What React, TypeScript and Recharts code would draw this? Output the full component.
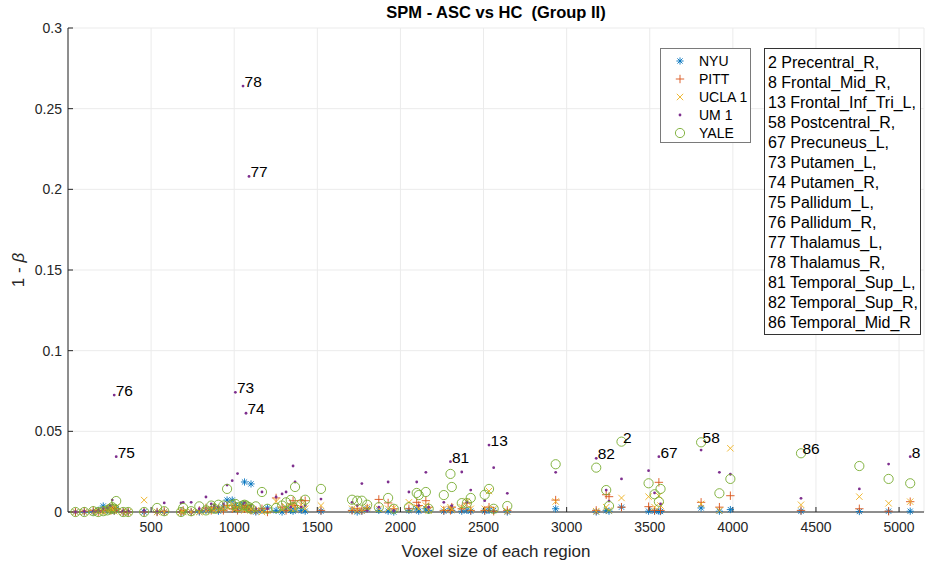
import { CartesianGrid, Scatter, ScatterChart, XAxis, YAxis } from 'recharts';

// voxel count of each AAL region and its 1 - beta per site (same order)
const voxelSizes = [
  45, 98, 152, 182, 212, 236, 254, 266, 278, 290, 332, 362, 458, 536, 579, 680, 693, 741, 790, 830,
  862, 880, 905, 935, 957, 988, 1007, 1020, 1053, 1062, 1071, 1089, 1101, 1130, 1167, 1200, 1252,
  1288, 1312, 1340, 1354, 1366, 1403, 1427, 1522, 1709, 1740, 1768, 1800, 1870, 1926, 1960, 2051,
  2098, 2110, 2153, 2170, 2261, 2301, 2309, 2369, 2400, 2423, 2507, 2533, 2561, 2643, 2934, 3178,
  3238, 3255, 3330, 3493, 3529, 3555, 3565, 3809, 3919, 3985, 4410, 4761, 4937, 5067,
];

const nyu = [
  0, 0, 0, 0.001, 0.0037, 0.001, 0.0025, 0.001, 0.0005, 0.002, 0, 0, 0, 0, 0, 0, 0, 0, 0, 0.001,
  0.0015, 0.002, 0.0005, 0.003, 0.0074, 0.0074, 0.004, 0.002, 0.005, 0.0186, 0.003, 0.002, 0.0174,
  0, 0.001, 0.0025, 0.001, 0, 0.002, 0.001, 0.0005, 0.002, 0.001, 0.0005, 0.0005, 0.001, 0, 0.0005,
  0.002, 0.001, 0.0005, 0, 0.001, 0.002, 0.0005, 0.002, 0.001, 0.0005, 0.002, 0.001, 0.0005, 0.001,
  0.0005, 0.0005, 0.001, 0.001, 0, 0.002, 0, 0.001, 0.0005, 0.003, 0.0005, 0.0005, 0.0005, 0.0003,
  0.0025, 0.0005, 0.0015, 0.0005, 0.0003, 0.0005, 0.0005,
];

const pitt = [
  0, 0.0005, 0.001, 0, 0.001, 0.002, 0.001, 0.003, 0.001, 0.002, 0, 0, 0, 0, 0.0005, 0, 0.001, 0,
  0.001, 0.0025, 0.001, 0.003, 0.002, 0.001, 0.004, 0.002, 0.003, 0.001, 0.003, 0.002, 0.004, 0.002,
  0.001, 0.001, 0.002, 0, 0.0087, 0.003, 0.001, 0.005, 0.007, 0.004, 0.007, 0.007, 0.001, 0.001,
  0.002, 0.001, 0.0025, 0.0078, 0.0056, 0.002, 0.002, 0.006, 0.004, 0.007, 0.003, 0.001, 0.001,
  0.003, 0.002, 0.0055, 0.001, 0.001, 0.003, 0.0005, 0.001, 0.0074, 0.001, 0.0107, 0.0095, 0.003,
  0.0033, 0.001, 0.0184, 0.001, 0.006, 0.003, 0.0101, 0.001, 0.002, 0.0005, 0.0064,
];

const ucla1 = [
  0, 0, 0, 0.0005, 0.0005, 0.001, 0.002, 0.002, 0.0005, 0.003, 0, 0, 0.0074, 0, 0, 0, 0, 0, 0,
  0.0005, 0.002, 0.001, 0.0015, 0.002, 0.003, 0.005, 0.002, 0.003, 0.002, 0.001, 0.002, 0.003, 0.002,
  0.001, 0, 0.001, 0.0065, 0.0015, 0.003, 0.002, 0.004, 0.002, 0.0045, 0.002, 0.004, 0.002, 0.001,
  0.001, 0.003, 0.002, 0.002, 0.0025, 0.006, 0.003, 0.002, 0.004, 0.001, 0.002, 0.003, 0.0015,
  0.003, 0.0065, 0.002, 0.002, 0.013, 0.002, 0.0005, 0.0065, 0.0005, 0.003, 0.001, 0.0087, 0.0095,
  0.003, 0.01, 0.004, 0.005, 0.001, 0.0395, 0.0045, 0.0095, 0.0054, 0.0064,
];

const um1 = [
  0, 0.0003, 0.0005, 0.001, 0.002, 0.0025, 0.004, 0.0074, 0.0725, 0.0343, 0.0005, 0.0005, 0.001, 0,
  0.0056, 0.0056, 0.006, 0.006, 0.002, 0.0093, 0.005, 0.004, 0.003, 0.005, 0.0167, 0.0194, 0.0742,
  0.0238, 0.264, 0.006, 0.0612, 0.208, 0.004, 0.002, 0.0124, 0.002, 0.0093, 0.0112, 0.0124, 0.003,
  0.0285, 0.0186, 0.003, 0.004, 0.008, 0.006, 0.004, 0.0176, 0.001, 0.003, 0.0186, 0.001, 0.0124,
  0.0186, 0.004, 0.0246, 0.003, 0.006, 0.0312, 0.004, 0.0248, 0.006, 0.0136, 0.007, 0.0415, 0.0275,
  0.0116, 0.0246, 0.0333, 0.0136, 0.0068, 0.0205, 0.0256, 0.0118, 0.0343, 0.005, 0.0384, 0.0246,
  0.0234, 0.0085, 0.0143, 0.0297, 0.0343,
];

const yale = [
  0, 0, 0.0005, 0, 0.0005, 0.001, 0.002, 0.003, 0.002, 0.0068, 0, 0, 0, 0.0025, 0.0005, 0, 0.0025,
  0.0005, 0.0035, 0.001, 0.004, 0.002, 0.0045, 0.004, 0.0143, 0.0045, 0.005, 0.003, 0.004, 0.0045,
  0.004, 0.003, 0.002, 0.0035, 0.0124, 0.002, 0.0025, 0.004, 0.006, 0.0075, 0.003, 0.0155, 0.005,
  0.0076, 0.0143, 0.0076, 0.007, 0.007, 0.0045, 0.003, 0.0087, 0.002, 0.003, 0.0118, 0.0105, 0.0124,
  0.002, 0.0105, 0.0236, 0.0155, 0.0055, 0.0055, 0.0087, 0.0107, 0.0143, 0.002, 0.0037, 0.0296,
  0.0275, 0.0136, 0.0037, 0.0436, 0.0178, 0.011, 0.0064, 0.0143, 0.0432, 0.0116, 0.0205, 0.0364,
  0.0285, 0.0205, 0.0178,
];

// AAL region number shown next to the highest marker, '' = not annotated
const regionNumbers = [
  '', '', '', '', '', '', '', '', '76', '75', '', '', '', '', '', '', '', '', '', '', '', '', '', '',
  '', '', '73', '', '78', '', '74', '77', '', '', '', '', '', '', '', '', '', '', '', '', '', '', '',
  '', '', '', '', '', '', '', '', '', '', '', '81', '', '', '', '', '', '13', '', '', '', '82', '',
  '', '2', '', '', '67', '', '58', '', '', '86', '', '', '8',
];

const regionNames = [
  '2 Precentral_R,',
  '8 Frontal_Mid_R,',
  '13 Frontal_Inf_Tri_L,',
  '58 Postcentral_R,',
  '67 Precuneus_L,',
  '73 Putamen_L,',
  '74 Putamen_R,',
  '75 Pallidum_L,',
  '76 Pallidum_R,',
  '77 Thalamus_L,',
  '78 Thalamus_R,',
  '81 Temporal_Sup_L,',
  '82 Temporal_Sup_R,',
  '86 Temporal_Mid_R',
];

const xTicks = [500, 1000, 1500, 2000, 2500, 3000, 3500, 4000, 4500, 5000];
const yTicks = [0, 0.05, 0.1, 0.15, 0.2, 0.25, 0.3];

const FONT = '"Liberation Sans", Arial, Helvetica, sans-serif';
const AXIS = '#262626';

type MarkerKind = 'asterisk' | 'plus' | 'cross' | 'dot' | 'circle';

function Marker({ kind, cx, cy, color }: { kind: MarkerKind; cx: number; cy: number; color: string }) {
  const sw = 0.9;
  if (kind === 'asterisk') {
    const r = 3.6;
    const d = 2.6;
    return (
      <g stroke={color} strokeWidth={sw}>
        <line x1={cx - r} y1={cy} x2={cx + r} y2={cy} />
        <line x1={cx} y1={cy - r} x2={cx} y2={cy + r} />
        <line x1={cx - d} y1={cy - d} x2={cx + d} y2={cy + d} />
        <line x1={cx - d} y1={cy + d} x2={cx + d} y2={cy - d} />
      </g>
    );
  }
  if (kind === 'plus') {
    const r = 4.2;
    return (
      <g stroke={color} strokeWidth={sw}>
        <line x1={cx - r} y1={cy} x2={cx + r} y2={cy} />
        <line x1={cx} y1={cy - r} x2={cx} y2={cy + r} />
      </g>
    );
  }
  if (kind === 'cross') {
    const r = 3.2;
    return (
      <g stroke={color} strokeWidth={sw}>
        <line x1={cx - r} y1={cy - r} x2={cx + r} y2={cy + r} />
        <line x1={cx - r} y1={cy + r} x2={cx + r} y2={cy - r} />
      </g>
    );
  }
  if (kind === 'dot') {
    return <circle cx={cx} cy={cy} r={1.4} fill={color} />;
  }
  return <circle cx={cx} cy={cy} r={4.6} fill="none" stroke={color} strokeWidth={sw} />;
}

const sites: { name: string; values: number[]; color: string; kind: MarkerKind }[] = [
  { name: 'NYU', values: nyu, color: '#0072BD', kind: 'asterisk' },
  { name: 'PITT', values: pitt, color: '#D95319', kind: 'plus' },
  { name: 'UCLA 1', values: ucla1, color: '#EDB120', kind: 'cross' },
  { name: 'UM 1', values: um1, color: '#7E2F8E', kind: 'dot' },
  { name: 'YALE', values: yale, color: '#77AC30', kind: 'circle' },
];

const annotations = voxelSizes
  .map((x, i) => ({
    x,
    y: Math.max(nyu[i], pitt[i], ucla1[i], um1[i], yale[i]),
    no: regionNumbers[i],
  }))
  .filter((d) => d.no !== '');

function RegionLabel(props: any) {
  const { cx, cy, payload } = props;
  return (
    <text x={cx + 1.5} y={cy + 1} fontSize={15.5} fontFamily={FONT} fill="#000">
      {payload.no}
    </text>
  );
}

function YLabel() {
  return (
    <text
      x={18}
      y={270}
      transform="rotate(-90 18 270)"
      textAnchor="middle"
      dominantBaseline="central"
      fontSize={17}
      fontFamily={FONT}
      fill={AXIS}
    >
      1 - <tspan fontStyle="italic">β</tspan>
    </text>
  );
}

export default function App() {
  return (
    <div
      style={{
        position: 'absolute',
        left: 0,
        top: 0,
        width: 926,
        height: 565,
        background: '#fff',
        fontFamily: FONT,
      }}
    >
      <ScatterChart width={926} height={565} margin={{ top: 28, right: 2, bottom: 0, left: 0 }}>
        <CartesianGrid stroke="#ebebeb" strokeWidth={1} />
        <XAxis
          type="number"
          dataKey="x"
          domain={[0, 5150]}
          ticks={xTicks}
          height={53}
          tickSize={-5}
          tickMargin={15}
          stroke={AXIS}
          tick={{ fill: AXIS, fontSize: 14, fontFamily: FONT }}
          label={{
            value: 'Voxel size of each region',
            position: 'insideBottom',
            offset: 8,
            fill: AXIS,
            fontSize: 17,
            fontFamily: FONT,
          }}
        />
        <YAxis
          type="number"
          dataKey="y"
          domain={[0, 0.3]}
          ticks={yTicks}
          width={68}
          tickSize={-5}
          tickMargin={11}
          stroke={AXIS}
          tick={{ fill: AXIS, fontSize: 14, fontFamily: FONT }}
          tickFormatter={(v: number) => String(v)}
        />
        {/* top and right edges of the axes box */}
        <XAxis
          xAxisId="top"
          orientation="top"
          type="number"
          domain={[0, 5150]}
          ticks={xTicks}
          height={0}
          tickSize={-5}
          tick={false}
          stroke={AXIS}
        />
        <YAxis
          yAxisId="right"
          orientation="right"
          type="number"
          domain={[0, 0.3]}
          ticks={yTicks}
          width={0}
          tickSize={-5}
          tick={false}
          stroke={AXIS}
        />
        {sites.map((s) => (
          <Scatter
            key={s.name}
            name={s.name}
            data={voxelSizes.map((x, i) => ({ x, y: s.values[i] }))}
            isAnimationActive={false}
            shape={(p: any) => <Marker kind={s.kind} cx={p.cx} cy={p.cy} color={s.color} />}
          />
        ))}
        <Scatter
          name="regions"
          data={annotations}
          isAnimationActive={false}
          legendType="none"
          shape={RegionLabel}
        />
        <text
          x={496}
          y={12}
          textAnchor="middle"
          dominantBaseline="central"
          fontSize={16.5}
          fontWeight="bold"
          fontFamily={FONT}
          fill="#000"
          style={{ whiteSpace: 'pre' }}
        >
          {'SPM - ASC vs HC  (Group II)'}
        </text>
        <YLabel />
      </ScatterChart>

      {/* site legend */}
      <div
        style={{
          position: 'absolute',
          left: 660,
          top: 48,
          width: 91,
          height: 95,
          border: '1px solid #7a7a7a',
          background: '#fff',
          boxSizing: 'border-box',
          paddingTop: 3,
        }}
      >
        {sites.map((s) => (
          <div key={s.name} style={{ height: 18, display: 'flex', alignItems: 'center' }}>
            <svg width={38} height={18} style={{ flex: 'none' }}>
              <Marker kind={s.kind} cx={19} cy={9} color={s.color} />
            </svg>
            <span style={{ fontSize: 14, color: '#000', whiteSpace: 'pre' }}>{s.name}</span>
          </div>
        ))}
      </div>

      {/* annotated region names */}
      <div
        style={{
          position: 'absolute',
          left: 764,
          top: 48,
          width: 157,
          height: 287,
          border: '1px solid #333',
          background: '#fff',
          boxSizing: 'border-box',
          paddingTop: 4,
          paddingLeft: 3,
          fontSize: 16,
          lineHeight: '20px',
          color: '#000',
          whiteSpace: 'pre',
        }}
      >
        {regionNames.map((n) => (
          <div key={n}>{n}</div>
        ))}
      </div>
    </div>
  );
}
